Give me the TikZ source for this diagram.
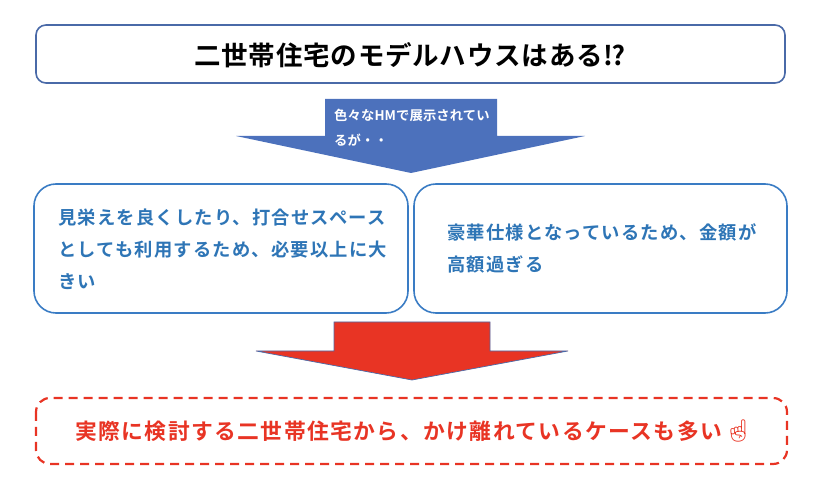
\documentclass[tikz,border=0pt]{standalone}
\usepackage{fontspec}
\usepackage{tikz}
\newfontfamily\jpfont[LetterSpace=6.5]{Noto Sans CJK JP Bold}
\newfontfamily\jpnote[LetterSpace=1.0]{Noto Sans CJK JP Bold}
\newfontfamily\jptitle[LetterSpace=3.0]{Noto Sans CJK JP Bold}
\newfontfamily\emojifont{Noto Emoji}
\definecolor{frameblue}{HTML}{4A6AA8}
\definecolor{boxblue}{HTML}{3A7CC4}
\definecolor{textblue}{HTML}{2E75B6}
\definecolor{arrowblue}{HTML}{4C71BC}
\definecolor{alertred}{HTML}{E83424}
\tikzset{x=1pt, y=-1pt,
	frame/.style={draw, rounded corners=10pt, line width=1.6pt},
	reason/.style={font=\jpfont\fontsize{18.3}{32}\selectfont, text=textblue, align=left, anchor=west, inner sep=0pt},
}
\begin{document}
\begin{tikzpicture}
\useasboundingbox (0,0) rectangle (828,494);
% upper part
\draw[frame, frameblue] (36,25) rectangle (785,83);
\node[font=\jptitle\fontsize{26.5}{28}\selectfont, inner sep=0pt] (title) at (410,55) {二世帯住宅のモデルハウスはある⁉};
\fill[arrowblue] (325,99) -- (497,99) -- (497,136) -- (585,136) -- (411,173) -- (236,136) -- (325,136) -- cycle;
\node[font=\jpnote\fontsize{13.3}{25}\selectfont, text=white, align=left, anchor=west, inner sep=0pt] (note) at (334,127.5) {色々なHMで展示されてい\\るが・・};
% the two boxes
\draw[frame, boxblue, rounded corners=22pt] (34,184) rectangle (408,313);
\draw[frame, boxblue, rounded corners=22pt] (414,184) rectangle (787,313);
\node[reason] (size) at (58,249) {見栄えを良くしたり、打合せスペース\\としても利用するため、必要以上に大\\きい};
\node[reason] (price) at (447,248) {豪華仕様となっているため、金額が\\高額過ぎる};
% lower part
\draw[frameblue, fill=alertred, line width=0.7pt] (334,322) -- (490,322) -- (490,351) -- (568,351) -- (412,380) -- (256,351) -- (334,351) -- cycle;
\draw[alertred, line width=2.2pt, dash pattern=on 9pt off 6pt, rounded corners=14pt] (36,398) rectangle (787,464);
\node[font=\jpfont\fontsize{21.8}{24}\selectfont, text=alertred, inner sep=0pt, anchor=west] (result) at (75,431) {実際に検討する二世帯住宅から、かけ離れているケースも多い};
\node[font=\emojifont\fontsize{22}{24}\selectfont, text=alertred, inner sep=0pt] (hand) at (738,431) {☝};
\end{tikzpicture}
\end{document}
